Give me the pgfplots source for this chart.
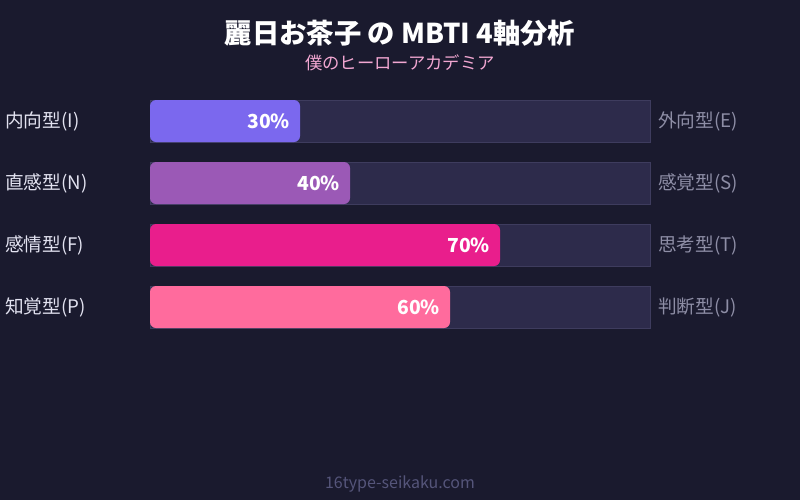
\documentclass[border=0pt]{standalone}
\usepackage{pgfplots}
\pgfplotsset{compat=1.18}
\usepackage{fontspec}
\setmainfont{Noto Sans CJK JP}

\definecolor{bg}{HTML}{1A1A2E}
\definecolor{track}{HTML}{2D2B4B}
\definecolor{trackline}{HTML}{3E3C5E}
\definecolor{cI}{HTML}{7B68EE}
\definecolor{cN}{HTML}{9B59B6}
\definecolor{cF}{HTML}{E91E8C}
\definecolor{cP}{HTML}{FF6B9D}
\definecolor{lefttext}{HTML}{E2E2F0}
\definecolor{righttext}{HTML}{8E8EA6}
\definecolor{subtext}{HTML}{F2A7D2}
\definecolor{foot}{HTML}{55557A}

\pgfplotsset{
  fillbar/.style={xbar, bar shift=0pt, bar width=42, draw=none,
    rounded corners=4.5pt, fill=#1,
    point meta=x,
    nodes near coords={\pgfmathprintnumber[assume math mode=true]{\pgfplotspointmeta}\%},
    every node near coord/.append style={anchor=east, xshift=-4pt,
      text=white, font=\fontsize{14.5}{16}\selectfont\bfseries}},
}

\begin{document}
\begin{tikzpicture}
\begin{axis}[
  scale only axis, width=600pt, height=375pt,
  xmin=-30, xmax=130, ymin=0, ymax=500, y dir=reverse,
  hide axis, clip=false,
]
  % background
  \fill[bg] (axis cs:-30,0) rectangle (axis cs:130,500);

  % tracks (100%)
  \addplot[xbar, bar shift=0pt, bar width=42, fill=track, draw=trackline,
    line width=0.6pt] coordinates {(100,121) (100,183) (100,245) (100,307)};

  % scores
  \addplot[fillbar=cI] coordinates {(30,121)};
  \addplot[fillbar=cN] coordinates {(40,183)};
  \addplot[fillbar=cF] coordinates {(70,245)};
  \addplot[fillbar=cP] coordinates {(60,307)};

  % axis labels
  \begin{scope}[font=\fontsize{14}{16}\selectfont, inner sep=0pt]
    \node[anchor=west, text=lefttext] at (axis cs:-29,121) {内向型(I)};
    \node[anchor=west, text=lefttext] at (axis cs:-29,183) {直感型(N)};
    \node[anchor=west, text=lefttext] at (axis cs:-29,245) {感情型(F)};
    \node[anchor=west, text=lefttext] at (axis cs:-29,307) {知覚型(P)};
    \node[anchor=west, text=righttext] at (axis cs:101.6,121) {外向型(E)};
    \node[anchor=west, text=righttext] at (axis cs:101.6,183) {感覚型(S)};
    \node[anchor=west, text=righttext] at (axis cs:101.6,245) {思考型(T)};
    \node[anchor=west, text=righttext] at (axis cs:101.6,307) {判断型(J)};
  \end{scope}

  % titles
  \node[text=white, font=\fontsize{20.5}{24}\selectfont\bfseries]
    at (axis cs:50,33) {麗日お茶子 の MBTI 4軸分析};
  \node[text=subtext, font=\fontsize{13}{15}\selectfont]
    at (axis cs:50,63) {僕のヒーローアカデミア};
  \node[text=foot, font=\fontsize{12}{14}\selectfont]
    at (axis cs:50,484) {16type-seikaku.com};
\end{axis}
\end{tikzpicture}
\end{document}
